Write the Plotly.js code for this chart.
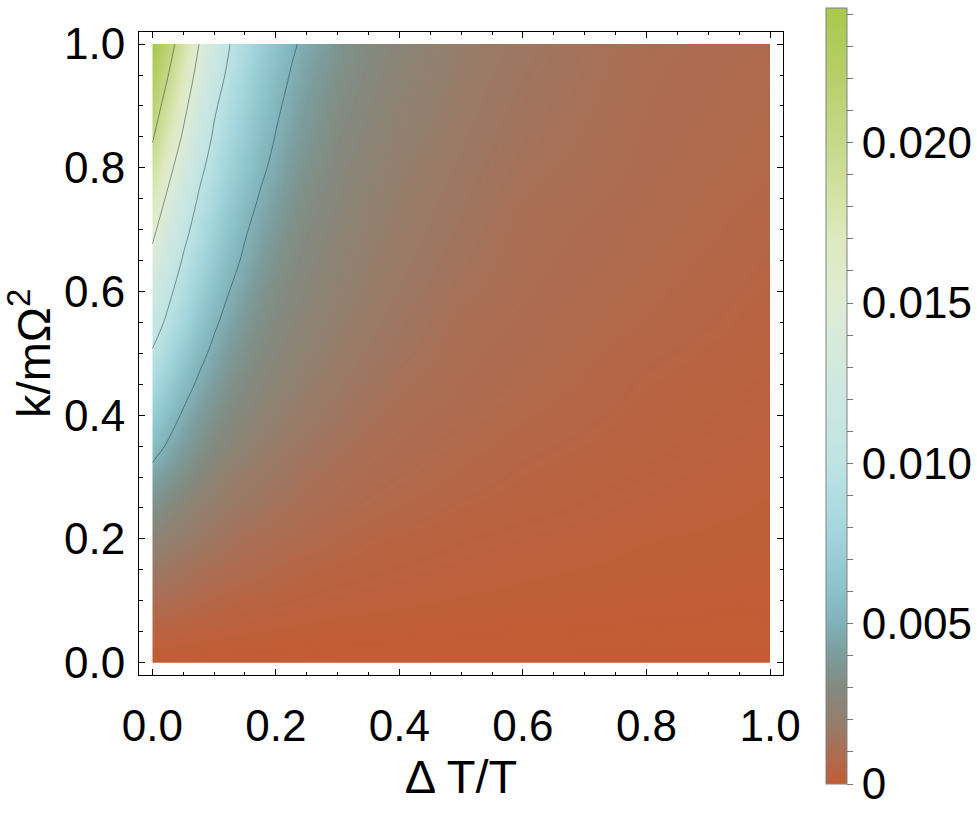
<!DOCTYPE html>
<html>
<head>
<meta charset="utf-8">
<script src="https://cdn.plot.ly/plotly-3.0.1.min.js"></script>
<style>
  html, body { margin: 0; padding: 0; background: #fff; }
  #chart { width: 977px; height: 822px; }
</style>
</head>
<body>
<div id="chart"></div>
<script>
// grid (columns: ΔT/T, rows: k/mΩ²)
const dtOverT = [0, 0.025, 0.05, 0.075, 0.1, 0.125, 0.15, 0.175, 0.2, 0.225, 0.25, 0.3, 0.35, 0.4, 0.5, 0.6, 0.8, 1.0]
const kOverMOmega2 = [0, 0.05, 0.1, 0.15, 0.2, 0.25, 0.3, 0.35, 0.4, 0.45, 0.5,
  0.55, 0.6, 0.65, 0.7, 0.75, 0.8, 0.85, 0.9, 0.95, 1.0]
const power = [
  [0, 0, 0, 0, 0, 0, 0, 0, 0, 0, 0, 0, 0, 0, 0, 0, 0, 0],
  [0.0004, 0.00036, 0.00032, 0.00028, 0.00025, 0.00023, 0.00021, 0.00019, 0.00017, 0.00016, 0.00014, 0.00012, 0.00011, 0.0001, 0.00008, 0.00007, 0.00005, 0.00004],
  [0.001, 0.0009, 0.00079, 0.00069, 0.00058, 0.0005, 0.00046, 0.00042, 0.00038, 0.00035, 0.00032, 0.00028, 0.00025, 0.00022, 0.00018, 0.00015, 0.0001, 0.00008],
  [0.0017, 0.0015, 0.0013, 0.0011, 0.00095, 0.00087, 0.00079, 0.00071, 0.00063, 0.00055, 0.00049, 0.00043, 0.00038, 0.00034, 0.00027, 0.00022, 0.00016, 0.00012],
  [0.0025, 0.0021, 0.0019, 0.0017, 0.0015, 0.0013, 0.0011, 0.001, 0.00092, 0.00085, 0.00078, 0.00064, 0.0005, 0.00045, 0.00036, 0.0003, 0.0002, 0.00015],
  [0.0034, 0.00295, 0.0025, 0.0021, 0.0019, 0.0017, 0.00155, 0.0014, 0.0012, 0.0011, 0.00097, 0.00085, 0.00073, 0.00062, 0.00047, 0.0004, 0.00027, 0.00018],
  [0.0044, 0.0038, 0.0033, 0.0028, 0.0024, 0.002, 0.00185, 0.0017, 0.00155, 0.0014, 0.0012, 0.00098, 0.00088, 0.00079, 0.0006, 0.00047, 0.00034, 0.00022],
  [0.0057, 0.00482, 0.00409, 0.00345, 0.00296, 0.00263, 0.00229, 0.00198, 0.00183, 0.00168, 0.00154, 0.00124, 0.00098, 0.0009, 0.00072, 0.00055, 0.00039, 0.00026],
  [0.0071, 0.00581, 0.00481, 0.00408, 0.00347, 0.003, 0.00271, 0.00241, 0.00212, 0.00192, 0.00178, 0.0015, 0.00122, 0.00098, 0.00082, 0.00066, 0.00043, 0.0003],
  [0.0084, 0.00703, 0.00569, 0.00474, 0.00403, 0.00344, 0.003, 0.00274, 0.00247, 0.00221, 0.00197, 0.0017, 0.00143, 0.00116, 0.0009, 0.00075, 0.00048, 0.00034],
  [0.0098, 0.00833, 0.00681, 0.00551, 0.00462, 0.00392, 0.00337, 0.00297, 0.00273, 0.00248, 0.00224, 0.00187, 0.00161, 0.00136, 0.00096, 0.00082, 0.00054, 0.00038],
  [0.0112, 0.00957, 0.00797, 0.00646, 0.00525, 0.00444, 0.00379, 0.00328, 0.00293, 0.0027, 0.00247, 0.002, 0.00176, 0.00151, 0.00102, 0.00088, 0.00062, 0.00041],
  [0.0127, 0.01058, 0.0089, 0.00735, 0.00601, 0.00499, 0.00425, 0.00364, 0.00317, 0.00288, 0.00266, 0.00222, 0.00188, 0.00165, 0.00119, 0.00093, 0.00068, 0.00045],
  [0.0142, 0.01182, 0.0098, 0.0082, 0.00676, 0.00558, 0.00472, 0.00404, 0.00348, 0.00307, 0.00282, 0.00238, 0.00197, 0.00175, 0.00131, 0.00097, 0.00073, 0.0005],
  [0.0157, 0.01311, 0.01075, 0.00901, 0.00748, 0.00617, 0.00516, 0.00443, 0.00382, 0.00334, 0.00298, 0.00254, 0.00209, 0.00183, 0.00142, 0.001, 0.00078, 0.00055],
  [0.0172, 0.01453, 0.01189, 0.0098, 0.00822, 0.00684, 0.0057, 0.00485, 0.00419, 0.00364, 0.0032, 0.0027, 0.00226, 0.00192, 0.00151, 0.0011, 0.00081, 0.0006],
  [0.0188, 0.01598, 0.01324, 0.01069, 0.00898, 0.00753, 0.0063, 0.00532, 0.00458, 0.00396, 0.00346, 0.00284, 0.00242, 0.002, 0.0016, 0.0012, 0.00085, 0.00065],
  [0.0203, 0.01742, 0.01467, 0.0118, 0.00967, 0.00815, 0.00685, 0.00577, 0.00494, 0.00429, 0.00374, 0.00298, 0.00257, 0.00216, 0.00169, 0.00129, 0.00088, 0.00069],
  [0.0216, 0.01879, 0.01584, 0.01296, 0.01037, 0.00874, 0.00735, 0.00618, 0.00526, 0.00458, 0.00401, 0.00316, 0.00271, 0.00231, 0.00177, 0.00138, 0.00091, 0.00072],
  [0.0229, 0.02012, 0.01703, 0.01409, 0.01133, 0.00943, 0.00795, 0.00669, 0.00566, 0.0049, 0.0043, 0.00338, 0.00285, 0.00246, 0.00185, 0.00147, 0.00093, 0.00076],
  [0.0242, 0.02141, 0.01831, 0.01507, 0.01228, 0.01006, 0.00856, 0.00723, 0.00612, 0.00525, 0.00461, 0.00363, 0.00298, 0.0026, 0.00193, 0.00156, 0.00096, 0.0008],
]

const contourLevels = [0.005, 0.01, 0.015, 0.02]
const zMax = 0.0242

// colour at a given value, as sampled from the legend bar
const colorStops = [
  [0, 'rgb(195,92,52)'],
  [0.001, 'rgb(170,110,84)'],
  [0.002, 'rgb(148,126,108)'],
  [0.003, 'rgb(131,138,128)'],
  [0.004, 'rgb(124,156,155)'],
  [0.005, 'rgb(128,178,185)'],
  [0.006, 'rgb(140,193,201)'],
  [0.008, 'rgb(166,215,222)'],
  [0.010, 'rgb(190,228,228)'],
  [0.012, 'rgb(204,231,226)'],
  [0.015, 'rgb(222,236,212)'],
  [0.017, 'rgb(222,233,190)'],
  [0.018, 'rgb(215,228,170)'],
  [0.020, 'rgb(198,217,138)'],
  [0.022, 'rgb(183,208,106)'],
  [0.0242, 'rgb(168,200,76)'],
]

const barTicks = [0, 0.001, 0.002, 0.003, 0.004, 0.005, 0.006, 0.007, 0.008, 0.009, 0.01, 0.011, 0.012,
  0.013, 0.014, 0.015, 0.016, 0.017, 0.018, 0.019, 0.02, 0.021, 0.022, 0.023, 0.024]
const barLabels = ['0', '', '', '', '', '0.005', '', '', '', '', '0.010', '', '', '', '', '0.015',
  '', '', '', '', '0.020', '', '', '', '']

const FONT = 'Liberation Sans, Arial, Helvetica, sans-serif'

const heat = {
  type: 'heatmap',
  x: dtOverT,
  y: kOverMOmega2,
  z: power,
  zsmooth: 'best',
  zmin: 0,
  zmax: zMax,
  colorscale: colorStops.map(([v, c]) => [v / zMax, c]),
  xaxis: 'x',
  yaxis: 'y',
  hoverinfo: 'skip',
  colorbar: {
    x: 826 / 977, xanchor: 'left', xpad: 0,
    y: 1 - 784 / 822, yanchor: 'bottom', ypad: 0,
    len: (784 - 8.3) / 822, lenmode: 'fraction',
    thickness: 21, thicknessmode: 'pixels',
    outlinewidth: 1, outlinecolor: 'rgb(130,130,130)',
    ticks: 'outside', ticklen: 6, tickwidth: 1, tickcolor: 'rgb(120,120,120)',
    tickmode: 'array', tickvals: barTicks, ticktext: barLabels,
    tickfont: { family: FONT, size: 44, color: '#000' },
  },
}

const lines = {
  type: 'contour',
  x: dtOverT,
  y: kOverMOmega2,
  z: power,
  xaxis: 'x2',
  yaxis: 'y2',
  showscale: false,
  hoverinfo: 'skip',
  autocontour: false,
  contours: {
    coloring: 'none',
    start: contourLevels[0],
    end: contourLevels[contourLevels.length - 1],
    size: contourLevels[1] - contourLevels[0],
  },
  line: { color: 'rgba(45,50,50,0.5)', width: 1, smoothing: 1 },
}

const frameAxis = {
  showline: true,
  linecolor: '#000',
  linewidth: 1,
  mirror: 'allticks',
  ticks: 'inside',
  ticklen: 6,
  tickwidth: 1,
  tickcolor: '#000',
  tick0: 0,
  dtick: 0.2,
  tickformat: '.1f',
  showgrid: false,
  zeroline: false,
  fixedrange: true,
  tickfont: { family: FONT, size: 44, color: '#000' },
  minor: { tick0: 0, dtick: 0.05, ticks: 'inside', ticklen: 3.5, tickcolor: '#000', showgrid: false },
}

const layout = {
  width: 977,
  height: 822,
  margin: { l: 0, r: 0, t: 0, b: 0, autoexpand: false },
  paper_bgcolor: '#fff',
  plot_bgcolor: 'rgba(0,0,0,0)',
  showlegend: false,
  font: { family: FONT, size: 44, color: '#000' },
  // inner axes: the density image, trimmed to the unit square
  xaxis: { domain: [152.3 / 977, 770 / 977], range: [0, 1], visible: false, fixedrange: true, anchor: 'y' },
  yaxis: { domain: [1 - 662.7 / 822, 1 - 44 / 822], range: [0, 1], visible: false, fixedrange: true, anchor: 'x' },
  // outer axes: frame, ticks, titles
  xaxis2: Object.assign({}, frameAxis, {
    domain: [139 / 977, 783 / 977],
    range: [-0.0215, 1.021],
    anchor: 'y2',
    ticklabelstandoff: 12,
    title: { text: 'Δ T/T', font: { family: FONT, size: 47, color: '#000' }, standoff: 8 },
  }),
  yaxis2: Object.assign({}, frameAxis, {
    domain: [1 - 675 / 822, 1 - 31.7 / 822],
    range: [-0.02, 1.02],
    anchor: 'x2',
    ticklabelstandoff: 4,
    title: { text: 'k/mΩ<sup>2</sup>', font: { family: FONT, size: 47, color: '#000' }, standoff: 16 },
  }),
}

Plotly.newPlot('chart', [heat, lines], layout, { displayModeBar: false, staticPlot: true })
</script>
</body>
</html>
